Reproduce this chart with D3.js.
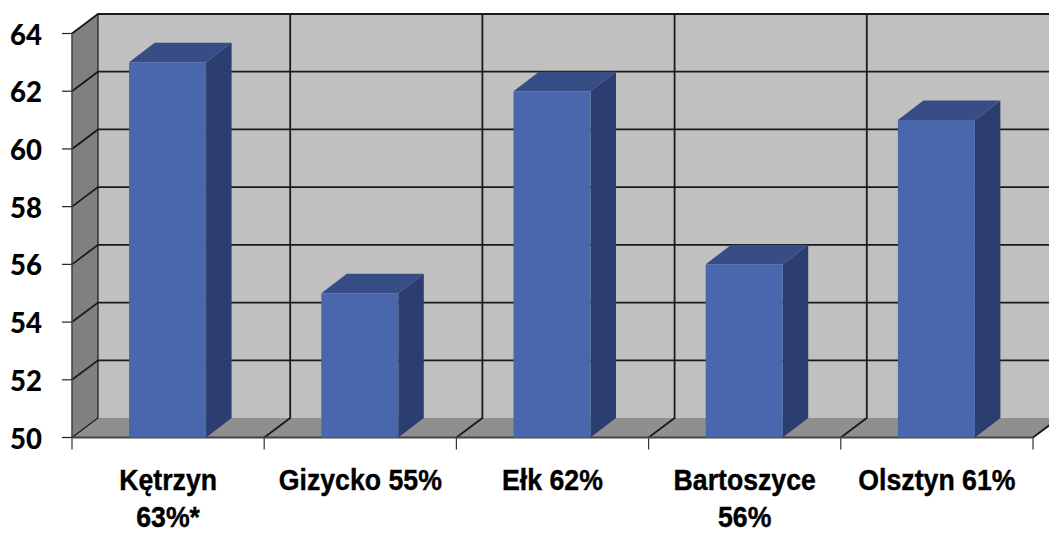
<!DOCTYPE html>
<html><head><meta charset="utf-8">
<script src="https://cdnjs.cloudflare.com/ajax/libs/d3/7.8.5/d3.min.js"></script>
<style>html,body{margin:0;padding:0;background:#fff;overflow:hidden}svg{display:block}</style>
</head><body><svg id="c" width="1049" height="534"></svg>
<script>
const categories = [["Kętrzyn","63%*"],["Gizycko 55%"],["Ełk 62%"],["Bartoszyce","56%"],["Olsztyn 61%"]];
const values = [63,55,62,56,61];
const yTicks = [50,52,54,56,58,60,62,64];

(function(){
const svg = d3.select("#c");
const depthX=26, depthY=19.5;
const x = d3.scaleBand().domain(d3.range(categories.length)).range([72,1033]).paddingInner(0).paddingOuter(0);
const y = d3.scaleLinear().domain([50,64]).range([437.5,33.5]);
const barW = 77;
const left=72,right=1033,bot=y(50),topY=y(64);
const pts=a=>a.map(p=>p.join(",")).join(" ");
const poly=(a,f)=>svg.append("polygon").attr("points",pts(a)).attr("fill",f);
const line=(x1,y1,x2,y2,c="#1a1a1a",w=1.8)=>svg.append("line").attr("x1",x1).attr("y1",y1).attr("x2",x2).attr("y2",y2).attr("stroke",c).attr("stroke-width",w);

// walls
poly([[left+depthX,topY-depthY],[right+depthX,topY-depthY],[right+depthX,bot-depthY],[left+depthX,bot-depthY]],"#c0c0c0");
poly([[left,topY],[left+depthX,topY-depthY],[left+depthX,bot-depthY],[left,bot]],"#808080");
poly([[left,bot],[left+depthX,bot-depthY],[right+depthX,bot-depthY],[right,bot]],"#8f8f8f");

// horizontal gridlines
yTicks.forEach(t=>{
  const yy=y(t);
  if(t!==50){
    svg.append("polyline").attr("points",pts([[left,yy],[left+depthX,yy-depthY],[right+depthX,yy-depthY]])).attr("fill","none").attr("stroke","#1a1a1a").attr("stroke-width",1.8);
  }
  line(left-10,yy,left,yy,"#222",1.2);
});
// vertical gridlines
const boundaries=d3.range(categories.length+1).map(i=>i<categories.length?x(i):right);
boundaries.forEach((bx,i)=>{
  svg.append("polyline").attr("points",pts([[bx,bot],[bx+depthX,bot-depthY],[bx+depthX,topY-depthY]])).attr("fill","none").attr("stroke","#1a1a1a").attr("stroke-width",i==0?1.2:1.8);
  line(bx,bot,bx,bot+12,"#333",1.2);
});
line(left,topY,left,bot,"#444",1.6);
line(left,bot,right,bot,"#444",2);

// bars
values.forEach((v,i)=>{
  const x0=x(i)+(x.bandwidth()-barW)/2-0.5, x1=x0+barW, yt=y(v);
  poly([[x1,yt],[x1+25.5,yt-depthY],[x1+25.5,bot-depthY],[x1,bot]],"#2c3e6f");
  poly([[x0,yt],[x0+25.5,yt-depthY],[x1+25.5,yt-depthY],[x1,yt]],"#364d85");
  poly([[x0,yt],[x1,yt],[x1,bot],[x0,bot]],"#4a66ac");
});

// y tick labels
yTicks.forEach(t=>{
  svg.append("text").attr("x",42).attr("y",y(t)+11).attr("text-anchor","end")
    .attr("font-family","Lato, Carlito, sans-serif").attr("font-weight",900).attr("font-size",27.5).attr("fill","#000").text(t);
});
// category labels, condensed horizontally
categories.forEach((c,i)=>{
  c.forEach((s,j)=>{
    svg.append("text").attr("transform",`translate(${x(i)+x.bandwidth()/2},${490+j*37}) scale(0.92,1)`).attr("text-anchor","middle")
      .attr("font-family","'Liberation Sans', sans-serif").attr("font-weight",700).attr("font-size",29)
      .attr("fill","#000").attr("stroke","#000").attr("stroke-width",0.4).text(s);
  });
});
})();
</script></body></html>
